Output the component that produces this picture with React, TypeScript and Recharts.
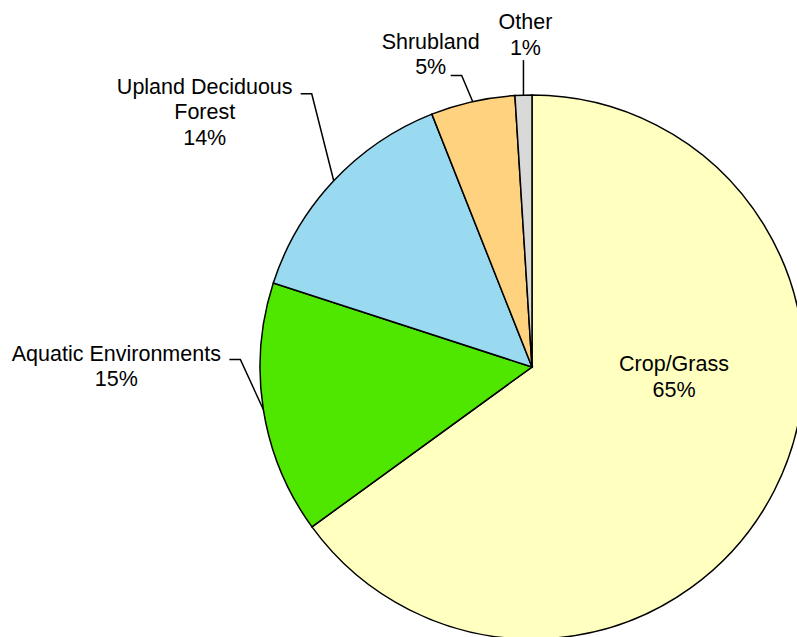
import { PieChart, Pie, Cell } from 'recharts';

// land cover shares around the site
const categories = ['Crop/Grass', 'Aquatic Environments', 'Upland Deciduous Forest', 'Shrubland', 'Other'];
const shares = [65, 15, 14, 5, 1];
const labelLines = [['Crop/Grass'], ['Aquatic Environments'], ['Upland Deciduous', 'Forest'], ['Shrubland'], ['Other']];

const sliceColors = ['#FFFFC0', '#4FE600', '#99DAF0', '#FFD280', '#D9D9D9'];

// leader line + text placement, relative to the point where the line leaves the slice edge
// inside: text centre relative to pie centre
const labelLayout: Record<number, { elbow?: [number, number]; end?: [number, number]; text: [number, number]; inside?: boolean }> = {
  0: { inside: true, text: [142, 10] },
  1: { elbow: [-23, -50], end: [-34, -50], text: [-147, -56] },
  2: { elbow: [-22, -87], end: [-33, -87], text: [-129, -94] },
  3: { elbow: [-11, -26], end: [-22, -26], text: [-42, -60] },
  4: { elbow: [0, -35], end: [0, -35], text: [2, -73] },
};

const data = categories.map((name, i) => ({ name, value: shares[i] }));

const RAD = Math.PI / 180;
const LINE_H = 25.5;

function renderLabel(props: any) {
  const { cx, cy, midAngle, outerRadius, index, value } = props;
  const layout = labelLayout[index];
  const lines = [...labelLines[index], `${value}%`];
  const textStyle = { fontFamily: 'Liberation Sans, Arial, sans-serif', fontSize: 21.5, fill: '#000' };

  if (layout.inside) {
    const tx = cx + layout.text[0];
    const ty = cy + layout.text[1] - ((lines.length - 1) * LINE_H) / 2;
    return (
      <g key={`lbl-${index}`}>
        {lines.map((l, k) => (
          <text key={k} x={tx} y={ty + k * LINE_H} textAnchor="middle" dominantBaseline="central" style={textStyle}>
            {l}
          </text>
        ))}
      </g>
    );
  }

  const ex = cx + outerRadius * Math.cos(-midAngle * RAD);
  const ey = cy + outerRadius * Math.sin(-midAngle * RAD);
  const bx = ex + layout.elbow![0];
  const by = ey + layout.elbow![1];
  const hx = ex + layout.end![0];
  const hy = ey + layout.end![1];
  const tx = ex + layout.text[0];
  const ty = ey + layout.text[1];

  return (
    <g key={`lbl-${index}`}>
      <polyline points={`${ex},${ey} ${bx},${by} ${hx},${hy}`} fill="none" stroke="#000" strokeWidth={1.5} />
      {lines.map((l, k) => (
        <text key={k} x={tx} y={ty + k * LINE_H} textAnchor="middle" dominantBaseline="central" style={textStyle}>
          {l}
        </text>
      ))}
    </g>
  );
}

export default function App() {
  return (
    <div style={{ position: 'absolute', left: 0, top: 0, width: 797, height: 637, overflow: 'hidden', background: '#fff' }}>
      <PieChart width={797} height={637} margin={{ top: 0, right: 0, bottom: 0, left: 0 }} style={{ overflow: 'visible' }}>
        <Pie
          data={data}
          dataKey="value"
          nameKey="name"
          cx={532}
          cy={367}
          outerRadius={272}
          startAngle={90}
          endAngle={-270}
          stroke="#000"
          strokeWidth={1.5}
          label={renderLabel}
          labelLine={false}
          isAnimationActive={false}
        >
          {data.map((d, i) => (
            <Cell key={d.name} fill={sliceColors[i]} />
          ))}
        </Pie>
      </PieChart>
    </div>
  );
}
